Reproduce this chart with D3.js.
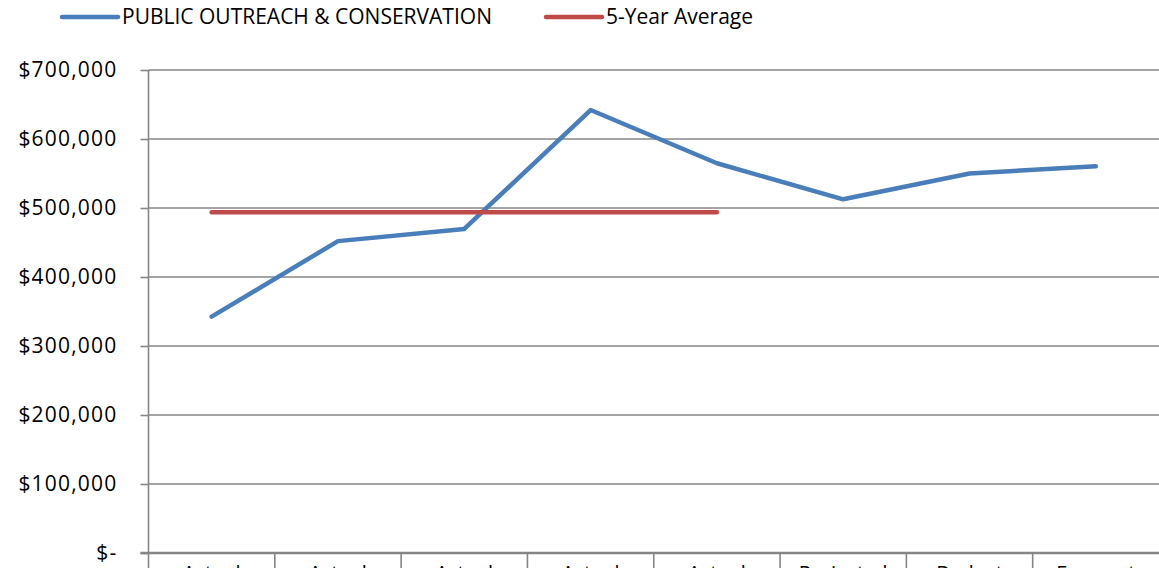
<!DOCTYPE html>
<html>
<head>
<meta charset="utf-8">
<script src="https://cdn.jsdelivr.net/npm/d3@7"></script>
<style>
  html, body { margin: 0; padding: 0; background: #fff; }
  svg { display: block; }
  text { font-family: "Open Sans", "Noto Sans", sans-serif; fill: #000; }
</style>
</head>
<body>
<svg id="chart" width="1159" height="568"></svg>
<script>
// Budget categories (one per fiscal column)
const categories = ["Actual", "Actual", "Actual", "Actual", "Actual", "Projected", "Budget", "Forecast"];
// Public outreach & conservation spending
const outreachValues = [342500, 452000, 469600, 642000, 564800, 512600, 550000, 560400];
// Five-year average of the actual years
const fiveYearAverage = 493700;
const averageSpan = 5;
// Y axis ticks
const yTicks = [0, 100000, 200000, 300000, 400000, 500000, 600000, 700000];
const seriesNames = ["PUBLIC OUTREACH & CONSERVATION", "5-Year Average"];
const seriesColors = ["#4A7EBB", "#BE4B48"];

const svg = d3.select("#chart");
const W = 1159, H = 568;
const plotLeft = 148.5, plotRight = 1159, plotTop = 70, plotBottom = 553;

const x = d3.scaleBand().domain(d3.range(categories.length)).range([plotLeft, plotRight]).padding(0);
const y = d3.scaleLinear().domain([0, 700000]).range([plotBottom, plotTop]);
const cx = i => x(i) + x.bandwidth() / 2;

const fmt = v => v === 0 ? "$-" : "$" + d3.format(",")(v);

// Value axis: outside tick marks and currency labels
const yAxis = d3.axisLeft(y).tickValues(yTicks).tickSize(8).tickFormat(fmt).tickPadding(23);
const gy = svg.append("g").attr("transform", `translate(${plotLeft},0)`).call(yAxis);
gy.select(".domain").remove();
gy.selectAll(".tick line").attr("stroke", "#868686").attr("stroke-width", 1.6);
gy.selectAll(".tick text")
  .attr("font-size", 21).attr("letter-spacing", "1.2px")
  .attr("fill", "#000").attr("dy", "0.32em");

// Horizontal gridlines
svg.append("g").selectAll("line").data(yTicks.filter(d => d > 0)).join("line")
  .attr("x1", plotLeft).attr("x2", plotRight)
  .attr("y1", d => y(d)).attr("y2", d => y(d))
  .attr("stroke", "#868686").attr("stroke-width", 1.6);

// Vertical axis line
svg.append("line").attr("x1", plotLeft).attr("x2", plotLeft).attr("y1", plotTop).attr("y2", H)
  .attr("stroke", "#868686").attr("stroke-width", 1.6);

// Category axis: baseline, separators between categories, labels
svg.append("line").attr("x1", plotLeft - 8).attr("x2", plotRight).attr("y1", plotBottom).attr("y2", plotBottom)
  .attr("stroke", "#868686").attr("stroke-width", 2.4);
svg.append("g").selectAll("line").data(d3.range(1, categories.length)).join("line")
  .attr("x1", i => x(i)).attr("x2", i => x(i))
  .attr("y1", plotBottom).attr("y2", H)
  .attr("stroke", "#868686").attr("stroke-width", 1.6);
svg.append("g").selectAll("text").data(categories).join("text")
  .attr("x", (d, i) => cx(i)).attr("y", plotBottom + 27)
  .attr("text-anchor", "middle").attr("font-size", 20)
  .text(d => d);

// Outreach series line
const line = d3.line().x((d, i) => cx(i)).y(d => y(d));
svg.append("path").datum(outreachValues)
  .attr("d", line).attr("fill", "none")
  .attr("stroke", seriesColors[0]).attr("stroke-width", 4.5)
  .attr("stroke-linejoin", "round").attr("stroke-linecap", "round");

// Five-year average line
svg.append("line")
  .attr("x1", cx(0)).attr("x2", cx(averageSpan - 1))
  .attr("y1", y(fiveYearAverage)).attr("y2", y(fiveYearAverage))
  .attr("stroke", seriesColors[1]).attr("stroke-width", 4.5)
  .attr("stroke-linecap", "round");

// Legend
const legendPos = [62, 546];
const legend = svg.append("g").selectAll("g").data(seriesNames).join("g")
  .attr("transform", (d, i) => `translate(${legendPos[i]},17)`);
legend.append("line").attr("x1", 0).attr("x2", 56).attr("y1", 0).attr("y2", 0)
  .attr("stroke", (d, i) => seriesColors[i]).attr("stroke-width", 4.5)
  .attr("stroke-linecap", "round");
legend.append("text").attr("x", 60).attr("y", 0).attr("dy", "0.35em")
  .attr("font-size", 21).text(d => d);
</script>
</body>
</html>
